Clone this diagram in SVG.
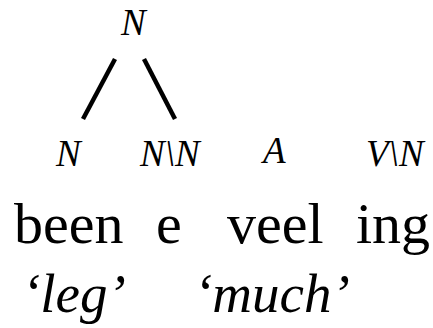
<svg xmlns="http://www.w3.org/2000/svg" width="433" height="328" viewBox="0 0 433 328">
<style>
text{font-family:'Liberation Serif','Tinos','Nimbus Roman','DejaVu Serif',serif;fill:#000}
.cat{font-style:italic;font-size:37px}
.word{font-size:58px}
.gloss{font-style:italic;font-size:55px}
.edge{stroke:#000;stroke-width:4.5;fill:none}
</style>
<rect width="433" height="328" fill="#fff"/>
<g id="connectors">
<line class="edge" x1="115" y1="59" x2="83" y2="119"/>
<line class="edge" x1="144" y1="59" x2="175" y2="119"/>
</g>
<g id="root"><text class="cat" x="121" y="35">N</text></g>
<g id="n1"><text class="cat" x="56" y="166">N</text></g>
<g id="n2"><text class="cat" x="140" y="166">N\N</text></g>
<g id="n3"><text class="cat" x="263" y="163">A</text></g>
<g id="n4"><text class="cat" x="366" y="166">V\N</text></g>
<g id="words">
<text class="word" x="14" y="243">been</text>
<text class="word" x="156" y="243">e</text>
<text class="word" x="227" y="243">veel</text>
<text class="word" x="356" y="243">ing</text>
</g>
<g id="glosses">
<text class="gloss" x="22" y="312">‘leg’</text>
<text class="gloss" x="194" y="312">‘much’</text>
</g>
</svg>
